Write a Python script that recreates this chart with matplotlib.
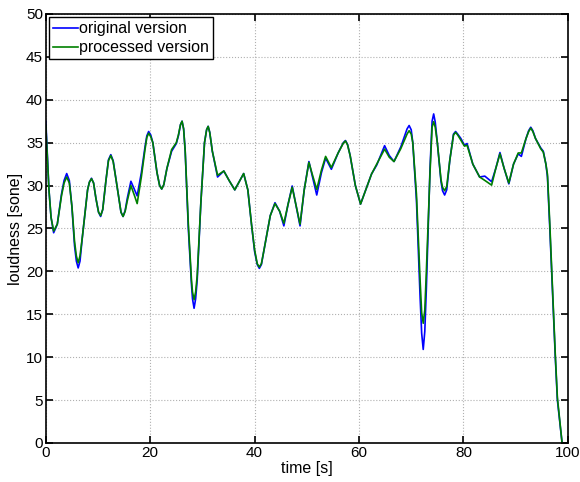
"""Loudness over time: original vs processed version (MATLAB-style figure)."""
import matplotlib
matplotlib.use("Agg")
import matplotlib.pyplot as plt

plt.rcParams["font.family"] = ["Liberation Sans", "DejaVu Sans"]

# time [s] and loudness [sone]
time_s = [
    0.0, 0.3, 0.6, 1.0, 1.5, 2.2, 3.0, 3.5, 4.0, 4.5, 5.0, 5.5, 5.85, 6.2, 6.55, 7.0, 8.0, 8.35, 8.75, 9.15, 9.6,
    10.1, 10.5, 10.9, 11.5, 12.0, 12.45, 12.9, 13.5, 14.4, 14.8, 15.2, 15.6, 16.3, 17.0, 17.5, 18.3, 19.0, 19.35, 19.7, 20.1,
    20.5, 21.3, 21.8, 22.2, 22.6, 23.2, 24.1, 25.0, 25.4, 25.8, 26.1, 26.4, 26.7, 27.3, 27.9, 28.1, 28.4, 28.7, 29.0, 29.7,
    30.4, 30.8, 31.1, 31.4, 31.9,
    32.9, 34.1, 35.2, 36.2, 37.1, 37.9, 38.7, 39.4, 40.0, 40.5, 40.9, 41.3, 41.8, 43.0, 43.9, 44.8, 45.6, 46.4, 47.2, 48.0,
    48.7, 49.5,
    50.4, 51.1, 51.9, 52.8, 53.6, 54.7, 56.0, 57.0, 57.4, 57.8, 58.3, 59.3, 60.3, 61.3, 62.4, 63.4, 64.9, 65.8, 66.7, 68.0,
    69.2, 69.6, 70.0, 70.3, 71.0, 71.7, 72.0, 72.3, 72.6, 72.9, 73.6, 74.0, 74.3, 74.6, 75.0, 75.7, 76.0, 76.4, 76.8, 77.4,
    78.1, 78.5, 78.9, 79.5, 80.2, 80.7,
    81.8, 83.1, 84.1, 85.4, 86.2, 87.0, 87.8, 88.7, 89.6, 90.5, 91.1, 92.0, 92.5, 92.9, 93.3, 93.8, 94.8, 95.3, 95.8, 96.1,
    96.55, 96.9, 97.25, 97.6, 98.0, 98.9,
]
original = [
    37.5, 33.5, 29.5, 26.3, 24.5, 25.5, 29.0, 30.6, 31.4, 30.6, 27.5, 23.0, 21.2, 20.4, 21.2, 24.0, 29.5, 30.4, 30.85, 30.3, 28.5,
    26.9, 26.4, 27.2, 30.5, 33.0, 33.6, 32.9, 30.5, 26.9, 26.4, 27.1, 28.5, 30.5, 29.5, 28.8, 31.5, 34.5, 35.8, 36.3, 35.9,
    35.0, 31.5, 30.0, 29.6, 30.1, 32.0, 34.0, 34.9, 35.8, 37.1, 37.5, 36.6, 34.0, 25.0, 18.5, 16.8, 15.7, 16.8, 19.0, 28.0,
    35.0, 36.5, 36.9, 36.2, 34.0,
    31.0, 31.7, 30.5, 29.5, 30.5, 31.4, 29.5, 25.5, 22.3, 20.8, 20.35, 20.8, 22.5, 26.5, 28.0, 27.0, 25.3, 27.8, 29.95, 27.5,
    25.3, 29.5,
    32.8, 31.0, 28.9, 31.5, 33.2, 31.9, 33.8, 35.0, 35.25, 34.8, 33.5, 30.0, 27.85, 29.5, 31.35, 32.4, 34.65, 33.5, 32.8, 34.5,
    36.6, 37.0, 36.5, 35.0, 28.3, 17.0, 12.8, 10.9, 13.0, 18.0, 32.0, 37.5, 38.35, 37.4, 35.0, 30.5, 29.4, 28.9, 29.5, 33.0,
    36.0, 36.3, 36.0, 35.5, 34.7, 34.9,
    32.5, 31.0, 31.1, 30.45, 32.0, 33.85, 32.0, 30.2, 32.5, 33.7, 33.4, 35.5, 36.4, 36.8, 36.4, 35.5, 34.4, 34.0, 32.5, 31.0,
    25.0, 20.0, 15.0, 10.0, 5.0, 0.0,
]
processed = [
    37.0, 33.3, 29.5, 26.3, 24.7, 25.5, 28.8, 30.3, 31.0, 30.3, 27.6, 23.5, 21.8, 21.0, 21.8, 24.0, 29.5, 30.4, 30.8, 30.3, 28.5,
    26.9, 26.5, 27.2, 30.5, 32.9, 33.5, 32.8, 30.5, 26.9, 26.4, 27.0, 28.2, 30.0, 28.8, 27.9, 31.0, 34.2, 35.6, 36.1, 35.7,
    35.0, 31.5, 30.0, 29.6, 30.1, 32.0, 34.2, 35.0, 35.9, 37.1, 37.5, 36.6, 34.0, 25.5, 19.0, 17.6, 16.7, 17.6, 19.5, 28.0,
    35.0, 36.5, 36.9, 36.2, 34.0,
    31.2, 31.7, 30.5, 29.5, 30.5, 31.4, 29.5, 25.5, 22.5, 20.9, 20.5, 20.9, 22.5, 26.5, 27.9, 27.0, 25.6, 27.8, 29.8, 27.5,
    25.5, 29.5,
    32.7, 31.2, 29.55, 31.8, 33.4, 32.1, 33.8, 34.95, 35.2, 34.75, 33.5, 30.0, 27.85, 29.5, 31.35, 32.5, 34.25, 33.3, 32.8, 34.3,
    36.0, 36.4, 36.0, 35.0, 29.0, 19.0, 15.2, 13.95, 15.5, 20.0, 31.5, 36.8, 37.45, 36.8, 35.0, 30.7, 29.8, 29.4, 29.9, 33.0,
    35.9, 36.2, 35.9, 35.3, 34.6, 34.7,
    32.5, 31.0, 30.6, 30.05, 32.0, 33.7, 32.0, 30.3, 32.5, 33.8, 33.8, 35.5, 36.3, 36.7, 36.3, 35.5, 34.3, 33.9, 32.5, 31.3,
    25.5, 20.4, 15.3, 10.3, 5.3, 0.0,
]

fig = plt.figure(figsize=(5.8, 4.82), dpi=100)
ax = fig.add_axes([0.079, 0.081, 0.900, 0.890])

ax.plot(time_s, original, color="#0000ff", lw=1.2, label="original version")
ax.plot(time_s, processed, color="#008000", lw=1.2, label="processed version")

ax.set_xlim(0, 100)
ax.set_ylim(0, 50)
ax.set_xticks(range(0, 101, 20))
ax.set_yticks(range(0, 51, 5))
ax.grid(True, color="#b0b0b0", ls=":", lw=0.8)
ax.tick_params(direction="in", top=True, right=True, length=5, width=1.2,
               labelsize=11, pad=2)
for s in ax.spines.values():
    s.set_linewidth(1.2)

ax.set_xlabel("time [s]", fontsize=11.5, labelpad=1)
ax.set_ylabel("loudness [sone]", fontsize=11.5, labelpad=2)

leg = ax.legend(loc="upper left", fontsize=11.5, fancybox=False,
                edgecolor="black", framealpha=1, borderaxespad=0.2,
                handlelength=1.55, handletextpad=0.1, borderpad=0.25,
                labelspacing=0.25)
leg.get_frame().set_linewidth(1.0)

fig.savefig("out.png", dpi=100)
plt.close(fig)
